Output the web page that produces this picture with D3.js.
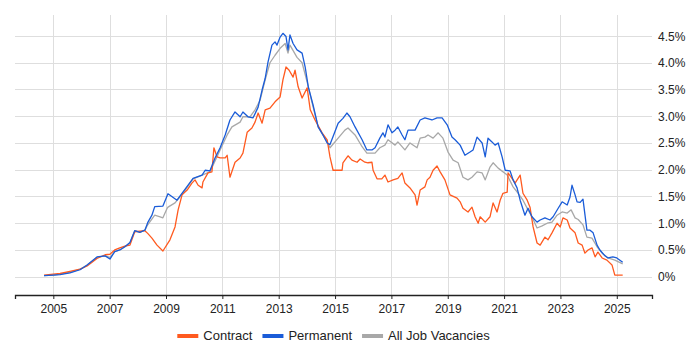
<!DOCTYPE html>
<html>
<head>
<meta charset="utf-8">
<script src="https://cdn.jsdelivr.net/npm/d3@7"></script>
<style>
  body { margin: 0; background: #fff; }
  svg { display: block; font-family: "Liberation Sans", Arial, sans-serif; }
</style>
</head>
<body>
<div id="chart"></div>
<script>
// tick labels
var yearTicks = [2005, 2007, 2009, 2011, 2013, 2015, 2017, 2019, 2021, 2023, 2025];
var pctTicks = [0, 0.5, 1, 1.5, 2, 2.5, 3, 3.5, 4, 4.5];

var seriesNames = ["Contract", "Permanent", "All Job Vacancies"];

// [year, % of vacancies]
var contract = [
  [2004.67,0.03],[2005.0,0.05],[2005.24,0.06],[2005.59,0.1],[2005.95,0.14],[2006.2,0.2],
  [2006.55,0.34],[2006.84,0.41],[2007.01,0.42],[2007.18,0.5],[2007.36,0.54],[2007.54,0.57],
  [2007.72,0.59],[2007.89,0.84],[2008.07,0.85],[2008.25,0.86],[2008.35,0.81],[2008.5,0.72],
  [2008.68,0.59],[2008.89,0.48],[2009.14,0.69],[2009.32,0.93],[2009.43,1.25],[2009.57,1.53],
  [2009.75,1.62],[2009.92,1.75],[2010.03,1.81],[2010.14,1.71],[2010.28,1.66],[2010.31,1.77],
  [2010.49,1.94],[2010.63,1.96],[2010.7,2.41],[2010.81,2.24],[2010.92,2.22],[2011.1,2.22],
  [2011.17,2.27],[2011.27,1.86],[2011.45,2.14],[2011.63,2.22],[2011.73,2.31],[2011.88,2.7],
  [2012.05,2.78],[2012.16,2.89],[2012.27,3.06],[2012.41,2.87],[2012.52,3.12],[2012.69,3.15],
  [2012.87,3.27],[2013.05,3.36],[2013.15,3.68],[2013.26,3.92],[2013.37,3.86],[2013.51,3.73],
  [2013.58,3.86],[2013.69,3.55],[2013.83,3.34],[2014.01,3.53],[2014.12,3.12],[2014.29,2.93],
  [2014.54,2.69],[2014.72,2.56],[2014.82,2.24],[2014.93,1.99],[2015.25,1.99],[2015.28,2.13],
  [2015.46,2.26],[2015.6,2.18],[2015.78,2.14],[2015.89,2.2],[2016.06,2.14],[2016.17,2.13],
  [2016.31,2.14],[2016.35,1.99],[2016.49,1.83],[2016.66,1.83],[2016.77,1.9],[2016.88,1.77],
  [2017.06,1.81],[2017.23,1.84],[2017.38,1.94],[2017.48,1.75],[2017.66,1.66],[2017.84,1.53],
  [2017.91,1.34],[2018.02,1.62],[2018.19,1.68],[2018.27,1.81],[2018.37,1.86],[2018.48,1.99],
  [2018.62,2.07],[2018.73,1.96],[2018.9,1.81],[2019.08,1.53],[2019.33,1.47],[2019.44,1.4],
  [2019.54,1.28],[2019.72,1.21],[2019.86,1.3],[2019.97,1.12],[2020.08,1.0],[2020.15,1.12],
  [2020.33,1.02],[2020.5,1.12],[2020.61,1.38],[2020.75,1.21],[2020.86,1.43],[2020.96,1.56],
  [2021.11,1.58],[2021.14,1.94],[2021.28,1.84],[2021.39,1.75],[2021.57,1.9],[2021.67,1.56],
  [2021.82,1.43],[2021.92,1.3],[2022.03,0.93],[2022.17,0.63],[2022.28,0.59],[2022.45,0.74],
  [2022.56,0.69],[2022.7,0.82],[2022.88,1.0],[2022.99,0.93],[2023.09,1.1],[2023.24,1.06],
  [2023.34,0.91],[2023.52,0.82],[2023.63,0.63],[2023.77,0.59],[2023.87,0.44],[2023.98,0.5],
  [2024.12,0.54],[2024.23,0.37],[2024.33,0.46],[2024.48,0.35],[2024.65,0.31],[2024.83,0.22],
  [2024.93,0.03],[2025.21,0.03]
];

var permanent = [
  [2004.67,0.02],[2005.0,0.03],[2005.24,0.04],[2005.59,0.07],[2005.95,0.13],[2006.2,0.22],
  [2006.55,0.37],[2006.84,0.39],[2007.01,0.33],[2007.18,0.47],[2007.36,0.5],[2007.54,0.56],
  [2007.72,0.64],[2007.89,0.86],[2008.07,0.83],[2008.25,0.87],[2008.35,1.01],[2008.5,1.15],
  [2008.6,1.31],[2008.89,1.32],[2009.07,1.55],[2009.39,1.43],[2009.6,1.58],[2009.96,1.84],
  [2010.28,1.9],[2010.39,1.99],[2010.56,1.98],[2010.74,2.22],[2010.92,2.41],[2011.1,2.65],
  [2011.27,2.93],[2011.45,3.08],[2011.63,2.99],[2011.73,3.08],[2011.91,2.99],[2012.09,2.97],
  [2012.27,3.17],[2012.41,3.49],[2012.52,3.71],[2012.62,4.01],[2012.76,4.33],[2012.87,4.39],
  [2012.94,4.33],[2013.05,4.48],[2013.15,4.55],[2013.26,4.49],[2013.33,4.24],[2013.4,4.52],
  [2013.51,4.36],[2013.65,4.24],[2013.83,4.18],[2013.94,3.92],[2014.05,3.55],[2014.22,3.21],
  [2014.4,2.8],[2014.57,2.65],[2014.72,2.5],[2014.82,2.47],[2014.93,2.62],[2015.11,2.87],
  [2015.28,2.96],[2015.42,3.06],[2015.53,2.99],[2015.71,2.8],[2015.96,2.56],[2016.13,2.37],
  [2016.31,2.37],[2016.42,2.41],[2016.59,2.59],[2016.7,2.69],[2016.77,2.61],[2016.88,2.84],
  [2017.02,2.69],[2017.13,2.74],[2017.23,2.8],[2017.38,2.65],[2017.48,2.56],[2017.59,2.74],
  [2017.84,2.74],[2018.02,2.93],[2018.19,2.97],[2018.44,2.93],[2018.62,2.97],[2018.8,2.97],
  [2018.98,2.84],[2019.15,2.61],[2019.26,2.56],[2019.44,2.46],[2019.61,2.27],[2019.79,2.33],
  [2019.9,2.37],[2020.04,2.61],[2020.22,2.5],[2020.33,2.24],[2020.43,2.59],[2020.57,2.52],
  [2020.68,2.46],[2020.79,2.5],[2020.93,2.24],[2021.04,1.99],[2021.21,1.98],[2021.32,1.81],
  [2021.46,1.66],[2021.57,1.43],[2021.74,1.15],[2021.85,1.28],[2021.99,1.12],[2022.17,1.02],
  [2022.28,1.06],[2022.45,1.1],[2022.63,1.06],[2022.74,1.12],[2022.92,1.28],[2023.06,1.4],
  [2023.24,1.34],[2023.34,1.49],[2023.41,1.71],[2023.52,1.53],[2023.59,1.4],[2023.7,1.39],
  [2023.8,1.45],[2023.94,0.87],[2024.05,0.87],[2024.16,0.82],[2024.3,0.59],[2024.4,0.5],
  [2024.58,0.39],[2024.69,0.35],[2024.86,0.37],[2025.0,0.35],[2025.21,0.27]
];

var allJobs = [
  [2004.67,0.02],[2005.0,0.03],[2005.24,0.05],[2005.59,0.08],[2005.95,0.14],[2006.2,0.22],
  [2006.55,0.36],[2006.84,0.39],[2007.01,0.36],[2007.18,0.47],[2007.36,0.5],[2007.54,0.56],
  [2007.72,0.63],[2007.89,0.86],[2008.07,0.83],[2008.25,0.87],[2008.35,0.97],[2008.6,1.15],
  [2008.79,1.12],[2008.89,1.1],[2009.04,1.28],[2009.07,1.3],[2009.32,1.38],[2009.6,1.56],
  [2009.96,1.83],[2010.56,1.96],[2010.92,2.37],[2011.17,2.65],[2011.34,2.8],[2011.63,2.89],
  [2011.73,2.99],[2011.98,2.99],[2012.16,3.12],[2012.34,3.3],[2012.52,3.68],[2012.69,4.0],
  [2012.87,4.14],[2013.05,4.27],[2013.23,4.36],[2013.33,4.18],[2013.4,4.33],[2013.65,4.1],
  [2013.83,4.0],[2014.01,3.64],[2014.19,3.24],[2014.4,2.8],[2014.72,2.52],[2014.82,2.41],
  [2015.11,2.59],[2015.35,2.74],[2015.46,2.78],[2015.71,2.65],[2015.96,2.43],[2016.13,2.31],
  [2016.42,2.31],[2016.59,2.41],[2016.77,2.46],[2016.88,2.56],[2017.13,2.46],[2017.23,2.52],
  [2017.48,2.37],[2017.66,2.5],[2017.91,2.41],[2018.02,2.59],[2018.19,2.61],[2018.3,2.65],
  [2018.48,2.59],[2018.66,2.69],[2018.83,2.59],[2019.01,2.33],[2019.19,2.18],[2019.37,2.13],
  [2019.54,1.86],[2019.72,1.81],[2019.86,1.86],[2020.04,1.96],[2020.22,1.94],[2020.33,1.81],
  [2020.5,2.05],[2020.61,2.13],[2020.79,2.03],[2021.11,1.9],[2021.32,1.68],[2021.5,1.56],
  [2021.67,1.43],[2021.85,1.25],[2021.99,1.12],[2022.17,0.91],[2022.35,0.95],[2022.53,1.0],
  [2022.7,1.02],[2022.88,1.15],[2023.06,1.21],[2023.24,1.19],[2023.38,1.25],[2023.52,1.1],
  [2023.63,1.07],[2023.8,0.97],[2023.94,0.74],[2024.12,0.72],[2024.3,0.56],[2024.48,0.44],
  [2024.69,0.35],[2024.93,0.31],[2025.21,0.24]
];

var colors = ["#ff5a1f", "#1a5cd8", "#a8a8a8"];

var width = 700, height = 350;
var plot = {left: 15, right: 652, top: 15, bottom: 295};

var svg = d3.select("#chart").append("svg")
    .attr("width", width)
    .attr("height", height);

var x = d3.scaleLinear()
    .domain([2003.64, 2026.25])
    .range([plot.left, plot.right]);

var y = d3.scaleLinear()
    .domain([0, 4.5])
    .range([276.7, 36]);

// grid
svg.append("g").selectAll("line")
    .data(pctTicks)
    .enter().append("line")
      .attr("x1", plot.left).attr("x2", plot.right)
      .attr("y1", function(d) { return Math.round(y(d)) + 0.5; })
      .attr("y2", function(d) { return Math.round(y(d)) + 0.5; })
      .attr("stroke", "#dedede");

svg.append("g").selectAll("line")
    .data(yearTicks)
    .enter().append("line")
      .attr("y1", plot.top).attr("y2", plot.bottom)
      .attr("x1", function(d) { return Math.round(x(d)) + 0.5; })
      .attr("x2", function(d) { return Math.round(x(d)) + 0.5; })
      .attr("stroke", "#dedede");

// right hand labels
svg.append("g").selectAll("text")
    .data(pctTicks)
    .enter().append("text")
      .attr("x", 658)
      .attr("y", function(d) { return y(d) + 4.5; })
      .attr("font-size", "12px")
      .attr("fill", "#222")
      .text(function(d) { return d === 0 ? "0%" : d.toFixed(1) + "%"; });

// x axis
var xAxis = d3.axisBottom(x)
    .tickValues(yearTicks)
    .tickFormat(d3.format("d"))
    .tickSize(4)
    .tickPadding(5);

var gx = svg.append("g")
    .attr("transform", "translate(0," + plot.bottom + ")")
    .call(xAxis);
gx.select(".domain").attr("stroke", "#222").attr("stroke-width", 1.3);
gx.selectAll(".tick line").attr("stroke", "#222");
gx.selectAll(".tick text")
    .attr("font-size", "12px")
    .attr("font-family", "Liberation Sans, Arial, sans-serif")
    .attr("fill", "#222");

// lines
var line = d3.line()
    .x(function(d) { return x(d[0]); })
    .y(function(d) { return y(d[1]); });

var drawOrder = [[allJobs, 2], [contract, 0], [permanent, 1]];
drawOrder.forEach(function(s) {
  svg.append("path")
      .datum(s[0])
      .attr("fill", "none")
      .attr("stroke", colors[s[1]])
      .attr("stroke-width", 1.3)
      .attr("stroke-linejoin", "round")
      .attr("d", line);
});

// legend
var legend = svg.append("g");
var cursor = 0;
seriesNames.forEach(function(name, i) {
  var item = legend.append("g").attr("transform", "translate(" + cursor + ",0)");
  item.append("rect")
      .attr("x", 0).attr("y", 334)
      .attr("width", 21).attr("height", 4)
      .attr("fill", colors[i]);
  var t = item.append("text")
      .attr("x", 26).attr("y", 340)
      .attr("font-size", "13px")
      .attr("fill", "#222")
      .text(name);
  cursor += 26 + t.node().getComputedTextLength() + 10;
});
var legendWidth = cursor - 10;
legend.attr("transform", "translate(" + ((plot.left + plot.right) / 2 - legendWidth / 2) + ",0)");
</script>
</body>
</html>
